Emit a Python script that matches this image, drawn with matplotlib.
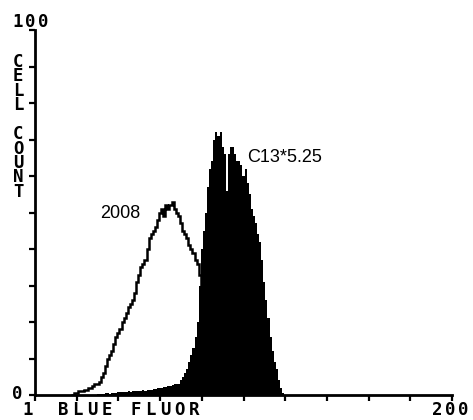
"""Flow cytometry histogram: blue fluorescence of 2008 vs C13*5.25."""
import matplotlib
matplotlib.use("Agg")
import matplotlib.pyplot as plt
import numpy as np

W, H = 473, 420

# open histogram "2008", one value per channel starting at channel 18
open_start = 18
open_counts = [
    0, 0.5, 0.5, 1, 1, 1, 1.5, 1.5, 2, 2,            # 18-27
    2.5, 3, 3, 3.5, 5, 6, 8, 10, 11, 12,             # 28-37
    14, 16, 17, 18, 20, 21, 22.5, 24, 25, 26,        # 38-47
    28, 31, 33, 35, 36, 37, 40, 43, 44, 45,          # 48-57
    46, 48, 50, 51, 49, 52, 51, 52, 53, 51,          # 58-67
    50, 49, 47, 45, 44, 43, 41, 40, 39, 37,          # 68-77
    36, 33, 30, 28, 26, 24, 22, 20, 18, 16,          # 78-87
    14, 12, 10, 8, 7, 6, 5, 4, 3, 2,                 # 88-97
    1.5, 1, 0.5, 0,                                  # 98-101
]

# filled histogram "C13*5.25", one value per channel starting at channel 30
filled_start = 30
filled_counts = [
    0.3, 0.3, 0.4, 0.3, 0.5, 0.5, 0.4, 0.6, 0.6, 0.5,   # 30-39
    0.7, 0.7, 0.8, 0.7, 0.9, 1, 0.9, 1, 1.1, 1,         # 40-49
    1.2, 1.2, 1.3, 1.2, 1.4, 1.5, 1.4, 1.6, 1.7, 1.8,   # 50-59
    1.9, 2, 2.1, 2.2, 2.4, 2.5, 2.7, 2.9, 3, 3,         # 60-69
    4, 5, 6, 7, 9, 11, 13, 16, 20, 30,                  # 70-79
    40, 45, 50, 57, 62, 64, 70, 72, 71, 72,             # 80-89
    68, 66, 56, 66, 68, 68, 66, 64, 64, 63,             # 90-99
    60, 62, 58, 55, 51, 49, 47, 44, 42, 37,             # 100-109
    31, 26, 21, 16, 12, 9, 7, 4, 2, 0.5,                # 110-119
    0,                                                  # 120
]

x_labels = ["1", "200"]
y_labels = ["0", "100"]
x_title = "BLUE FLUOR"
y_title = "CELL COUNT"
series_names = ["2008", "C13*5.25"]

MONO = dict(family="DejaVu Sans Mono", fontweight="bold", fontsize=12.5, color="black")
SANS = dict(family="Liberation Sans", fontsize=13, color="black")


def px(x, y):
    """figure pixel (from top-left) -> figure fraction"""
    return x / W, 1 - y / H


def spaced(fig, x0, y, text, pitch, **kw):
    for i, ch in enumerate(text):
        fig.text(*px(x0 + i * pitch, y), ch, ha="center", va="center", **kw)


def main():
    fig = plt.figure(figsize=(W / 100, H / 100), dpi=100)
    ax = fig.add_axes([35 / W, 1 - 395 / H, 417 / W, 365 / H])

    e_open = np.arange(open_start, open_start + len(open_counts) + 1) - 0.5
    e_fill = np.arange(filled_start, filled_start + len(filled_counts) + 1) - 0.5
    ax.stairs(open_counts, e_open, color="black", lw=1.8, zorder=2)
    ax.stairs(filled_counts, e_fill, fill=True, color="black", lw=0, zorder=3)

    ax.set_xlim(0, 200)
    ax.set_ylim(0, 100)
    ax.set_xticks(np.arange(0, 201, 20))
    ax.set_yticks(np.arange(0, 101, 10))
    ax.tick_params(length=4, width=1.6, labelbottom=False, labelleft=False,
                   direction="out")
    for s in ("top", "right"):
        ax.spines[s].set_visible(False)
    for s in ("left", "bottom"):
        ax.spines[s].set_linewidth(2)

    # axis end labels and titles in the blocky terminal font
    spaced(fig, 18, 22, y_labels[1], 12.5, **MONO)
    spaced(fig, 17, 394, y_labels[0], 12, **MONO)
    spaced(fig, 28, 410, x_labels[0], 12, **MONO)
    spaced(fig, 437, 410, x_labels[1], 13, **MONO)
    spaced(fig, 63, 410, x_title, 14.6, **MONO)
    # stacked letters as one text so they share a single box
    fig.text(*px(18, 53), "\n".join(y_title), ha="center", va="top",
             linespacing=0.745, **MONO)

    fig.text(*px(100, 213), series_names[0], ha="left", va="center", **SANS)
    fig.text(*px(247, 158), series_names[1], ha="left", va="center", **SANS)

    fig.savefig("out.png", dpi=100)
    plt.close(fig)


if __name__ == "__main__":
    main()
